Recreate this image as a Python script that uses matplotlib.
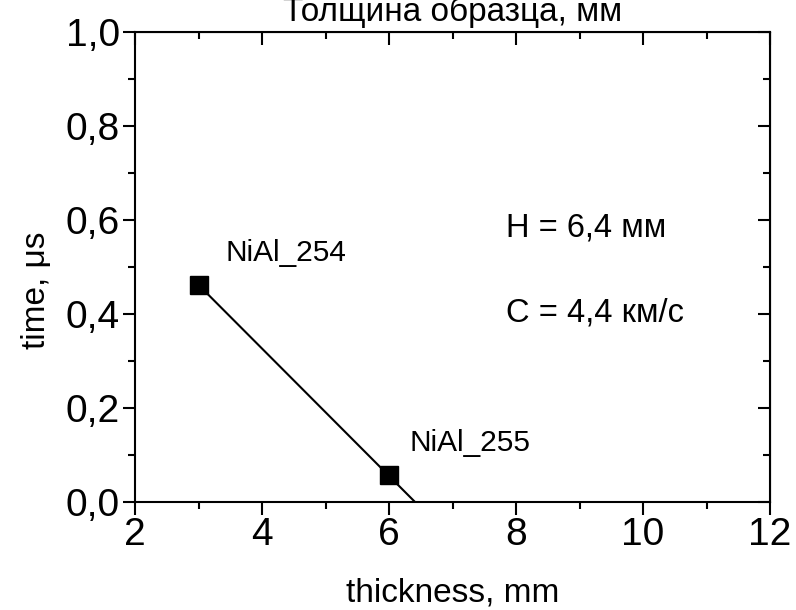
import matplotlib
matplotlib.use("Agg")
import matplotlib.pyplot as plt
from matplotlib.ticker import MultipleLocator, FuncFormatter

plt.rcParams["font.family"] = ["Liberation Sans", "DejaVu Sans"]

# data
thickness = [3.0, 6.0]
time_us = [0.462, 0.057]
samples = ["NiAl_254", "NiAl_255"]
fit_x = [3.0, 6.41]
fit_y = [0.462, 0.0]

fig = plt.figure(figsize=(7.96, 6.10), dpi=100)
ax = fig.add_axes([135 / 796, 1 - 502 / 610, 635 / 796, 470 / 610])

ax.plot(fit_x, fit_y, color="black", lw=1.5)
ax.plot(thickness, time_us, "s", color="black", ms=12.5)
ax.text(3.42, 0.50, samples[0], fontsize=21.5, ha="left", va="bottom")
ax.text(6.33, 0.095, samples[1], fontsize=21.5, ha="left", va="bottom")
ax.text(7.85, 0.582, "H = 6,4 мм", fontsize=23.5, ha="left", va="center")
ax.text(7.85, 0.402, "C = 4,4 км/с", fontsize=23.5, ha="left", va="center")

ax.set_xlim(2, 12)
ax.set_ylim(0, 1.0)
ax.xaxis.set_major_locator(MultipleLocator(2))
ax.xaxis.set_minor_locator(MultipleLocator(1))
ax.yaxis.set_major_locator(MultipleLocator(0.2))
ax.yaxis.set_minor_locator(MultipleLocator(0.1))
ax.yaxis.set_major_formatter(FuncFormatter(lambda v, p: f"{v:.1f}".replace(".", ",")))

for s in ax.spines.values():
    s.set_linewidth(1.5)
ax.tick_params(which="both", direction="out", width=1.5, labelsize=28)
ax.tick_params(which="major", length=9, pad=2)
ax.tick_params(which="minor", length=5)

# top and right: inward ticks without labels
for side in ("top", "right"):
    sec = ax.secondary_xaxis("top") if side == "top" else ax.secondary_yaxis("right")
    axis = sec.xaxis if side == "top" else sec.yaxis
    axis.set_major_locator(MultipleLocator(2 if side == "top" else 0.2))
    axis.set_minor_locator(MultipleLocator(1 if side == "top" else 0.1))
    sec.tick_params(which="both", direction="in", width=1.5, labelsize=0)
    sec.tick_params(which="major", length=9)
    sec.tick_params(which="minor", length=5)
    axis.set_ticklabels([])
    axis.set_ticklabels([], minor=True)

ax.set_xlabel("thickness, mm", fontsize=24)
ax.xaxis.set_label_coords(0.5, -75 / 470, transform=ax.transAxes)
ax.set_ylabel("time, μs", fontsize=24)
ax.yaxis.set_label_coords(-83 / 635, 212 / 470, transform=ax.transAxes)
fig.text(453 / 796, 1 - 21 / 610, "Толщина образца, мм", fontsize=24, ha="center", va="baseline")

fig.savefig("out.png", dpi=100)
